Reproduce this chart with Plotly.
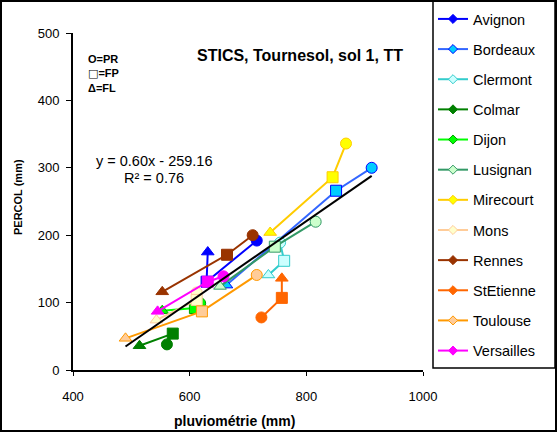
import plotly.graph_objects as go

# ---- data (pluviométrie, PERCOL) : order PR, FP, FL ----
sites = ["Avignon", "Bordeaux", "Clermont", "Colmar", "Dijon", "Lusignan",
         "Mirecourt", "Mons", "Rennes", "StEtienne", "Toulouse", "Versailles"]
pluvio = {
    "Avignon":    [715, 629, 631],
    "Bordeaux":   [912, 851, 663],
    "Clermont":   [755, 762, 735],
    "Colmar":     [561, 571, 514],
    "Dijon":      [618, 609, 553],
    "Lusignan":   [816, 746, 652],
    "Mirecourt":  [868, 845, 738],
    "Mons":       [612, 612, 543],
    "Rennes":     [708, 664, 553],
    "StEtienne":  [723, 758, 758],
    "Toulouse":   [715, 621, 490],
    "Versailles": [658, 631, 545],
}
percol = {
    "Avignon":    [192, 131, 175],
    "Bordeaux":   [300, 266, 126],
    "Clermont":   [189, 162, 141],
    "Colmar":     [38, 54, 36],
    "Dijon":      [99, 92, 88],
    "Lusignan":   [220, 183, 124],
    "Mirecourt":  [336, 286, 204],
    "Mons":       [115, 104, 74],
    "Rennes":     [200, 171, 116],
    "StEtienne":  [78, 107, 136],
    "Toulouse":   [141, 87, 47],
    "Versailles": [139, 131, 87],
}
trend_slope = 0.60
trend_intercept = -259.16
x_ticks = [400, 600, 800, 1000]
y_ticks = [0, 100, 200, 300, 400, 500]

# ---- styles: (line colour, marker fill, marker border) ----
styles = {
    "Avignon":    ("#0000FF", "#0000FF", "#0000FF"),
    "Bordeaux":   ("#3366FF", "#00CCFF", "#0000FF"),
    "Clermont":   ("#33CCCC", "#CCFFFF", "#33CCCC"),
    "Colmar":     ("#008000", "#008000", "#008000"),
    "Dijon":      ("#00FF00", "#00FF00", "#00A000"),
    "Lusignan":   ("#339966", "#CCFFCC", "#339966"),
    "Mirecourt":  ("#FFCC00", "#FFFF00", "#FFCC00"),
    "Mons":       ("#FFCC99", "#FFFFCC", "#FFCC99"),
    "Rennes":     ("#993300", "#993300", "#993300"),
    "StEtienne":  ("#FF6600", "#FF6600", "#FF6600"),
    "Toulouse":   ("#FF9900", "#FFCC99", "#FF9900"),
    "Versailles": ("#FF00FF", "#FF00FF", "#FF00FF"),
}
symbols = ["circle", "square", "triangle-up"]
FONT = "Arial, Liberation Sans, Helvetica, sans-serif"

fig = go.Figure()

# trendline over the data range
all_x = [v for s in sites for v in pluvio[s]]
tx = [min(all_x), max(all_x)]
ty = [trend_slope * v + trend_intercept for v in tx]

for s in sites:
    lc, fc, bc = styles[s]
    fig.add_trace(go.Scatter(
        x=pluvio[s], y=percol[s], mode="lines+markers", showlegend=False,
        line=dict(color=lc, width=2),
        marker=dict(symbol=symbols, size=11, color=fc, line=dict(color=bc, width=1)),
        hoverinfo="skip"))

fig.add_trace(go.Scatter(x=tx, y=ty, mode="lines", showlegend=False,
                         line=dict(color="black", width=2), hoverinfo="skip"))

# legend-only entries
for i, s in enumerate(sites):
    lc, fc, bc = styles[s]
    fig.add_trace(go.Scatter(
        x=[None], y=[None], mode="lines+markers", name=s, legendgroup=s,
        line=dict(color=lc, width=2),
        marker=dict(symbol="diamond", size=7, color=fc, line=dict(color=bc, width=1))))

W, H = 557, 432
L, R, T, B = 73, 134, 33, 62
pw, ph = W - L - R, H - T - B

def px(x):
    return (x - L) / pw

def py(y):
    return (H - B - y) / ph

fig.update_layout(
    template="none",
    width=W, height=H,
    margin=dict(l=L, r=R, t=T, b=B, autoexpand=False),
    paper_bgcolor="white", plot_bgcolor="white",
    font=dict(family=FONT, size=13, color="black"),
    legend=dict(x=px(433), y=py(3), xanchor="left", yanchor="top",
                borderwidth=0, font=dict(size=14.5),
                tracegroupgap=8.3, itemwidth=30, bgcolor="rgba(0,0,0,0)",
                maxheight=430),
    xaxis=dict(range=[400, 1000], tickvals=x_ticks, showgrid=False, zeroline=False,
               automargin=False,
               showline=True, linecolor="black", linewidth=2, ticks="outside",
               ticklen=4, tickwidth=1, tickcolor="black", ticklabelstandoff=9,
               tickfont=dict(size=13)),
    yaxis=dict(range=[0, 500], tickvals=y_ticks, showgrid=False, zeroline=False,
               automargin=False,
               showline=True, linecolor="black", linewidth=2, ticks="outside",
               ticklen=5, tickwidth=1, tickcolor="black", ticklabelstandoff=4,
               tickfont=dict(size=13)),
    annotations=[
        dict(text="<b>STICS, Tournesol, sol 1, TT</b>", xref="paper", yref="paper",
             x=px(300), y=py(55), xanchor="center", yanchor="middle",
             showarrow=False, font=dict(size=16)),
        dict(text="<b>O=PR<br><span style=\"font-family:DejaVu Sans\">□</span>=FP<br>Δ=FL</b>",
             xref="paper", yref="paper",
             x=px(86), y=py(73), xanchor="left", yanchor="middle", align="left",
             showarrow=False, font=dict(size=11)),
        dict(text="y = 0.60x - 259.16", xref="paper", yref="paper",
             x=px(153.5), y=py(161), xanchor="center", yanchor="middle",
             showarrow=False, font=dict(size=14.5)),
        dict(text="R² = 0.76", xref="paper", yref="paper",
             x=px(153.5), y=py(178), xanchor="center", yanchor="middle",
             showarrow=False, font=dict(size=14.5)),
        dict(text="<b>pluviométrie (mm)</b>", xref="paper", yref="paper",
             x=px(234), y=py(421), xanchor="center", yanchor="middle",
             showarrow=False, font=dict(size=14)),
        dict(text="<b>PERCOL (mm)</b>", xref="paper", yref="paper", textangle=-90,
             x=px(18), y=py(197), xanchor="center", yanchor="middle",
             showarrow=False, font=dict(size=11)),
    ],
    shapes=[
        dict(type="rect", xref="paper", yref="paper",
             x0=px(1), x1=px(W - 1), y0=py(H - 1), y1=py(1),
             line=dict(color="black", width=2), fillcolor="rgba(0,0,0,0)",
             layer="below"),
        dict(type="rect", xref="paper", yref="paper",
             x0=px(433), x1=px(555), y0=py(368), y1=py(1),
             line=dict(color="black", width=1.5), fillcolor="rgba(0,0,0,0)",
             layer="above"),
    ],
)

fig.write_html("out.html", config={"displayModeBar": False},
               post_script="document.body.style.margin='0';document.body.style.overflow='hidden';")
